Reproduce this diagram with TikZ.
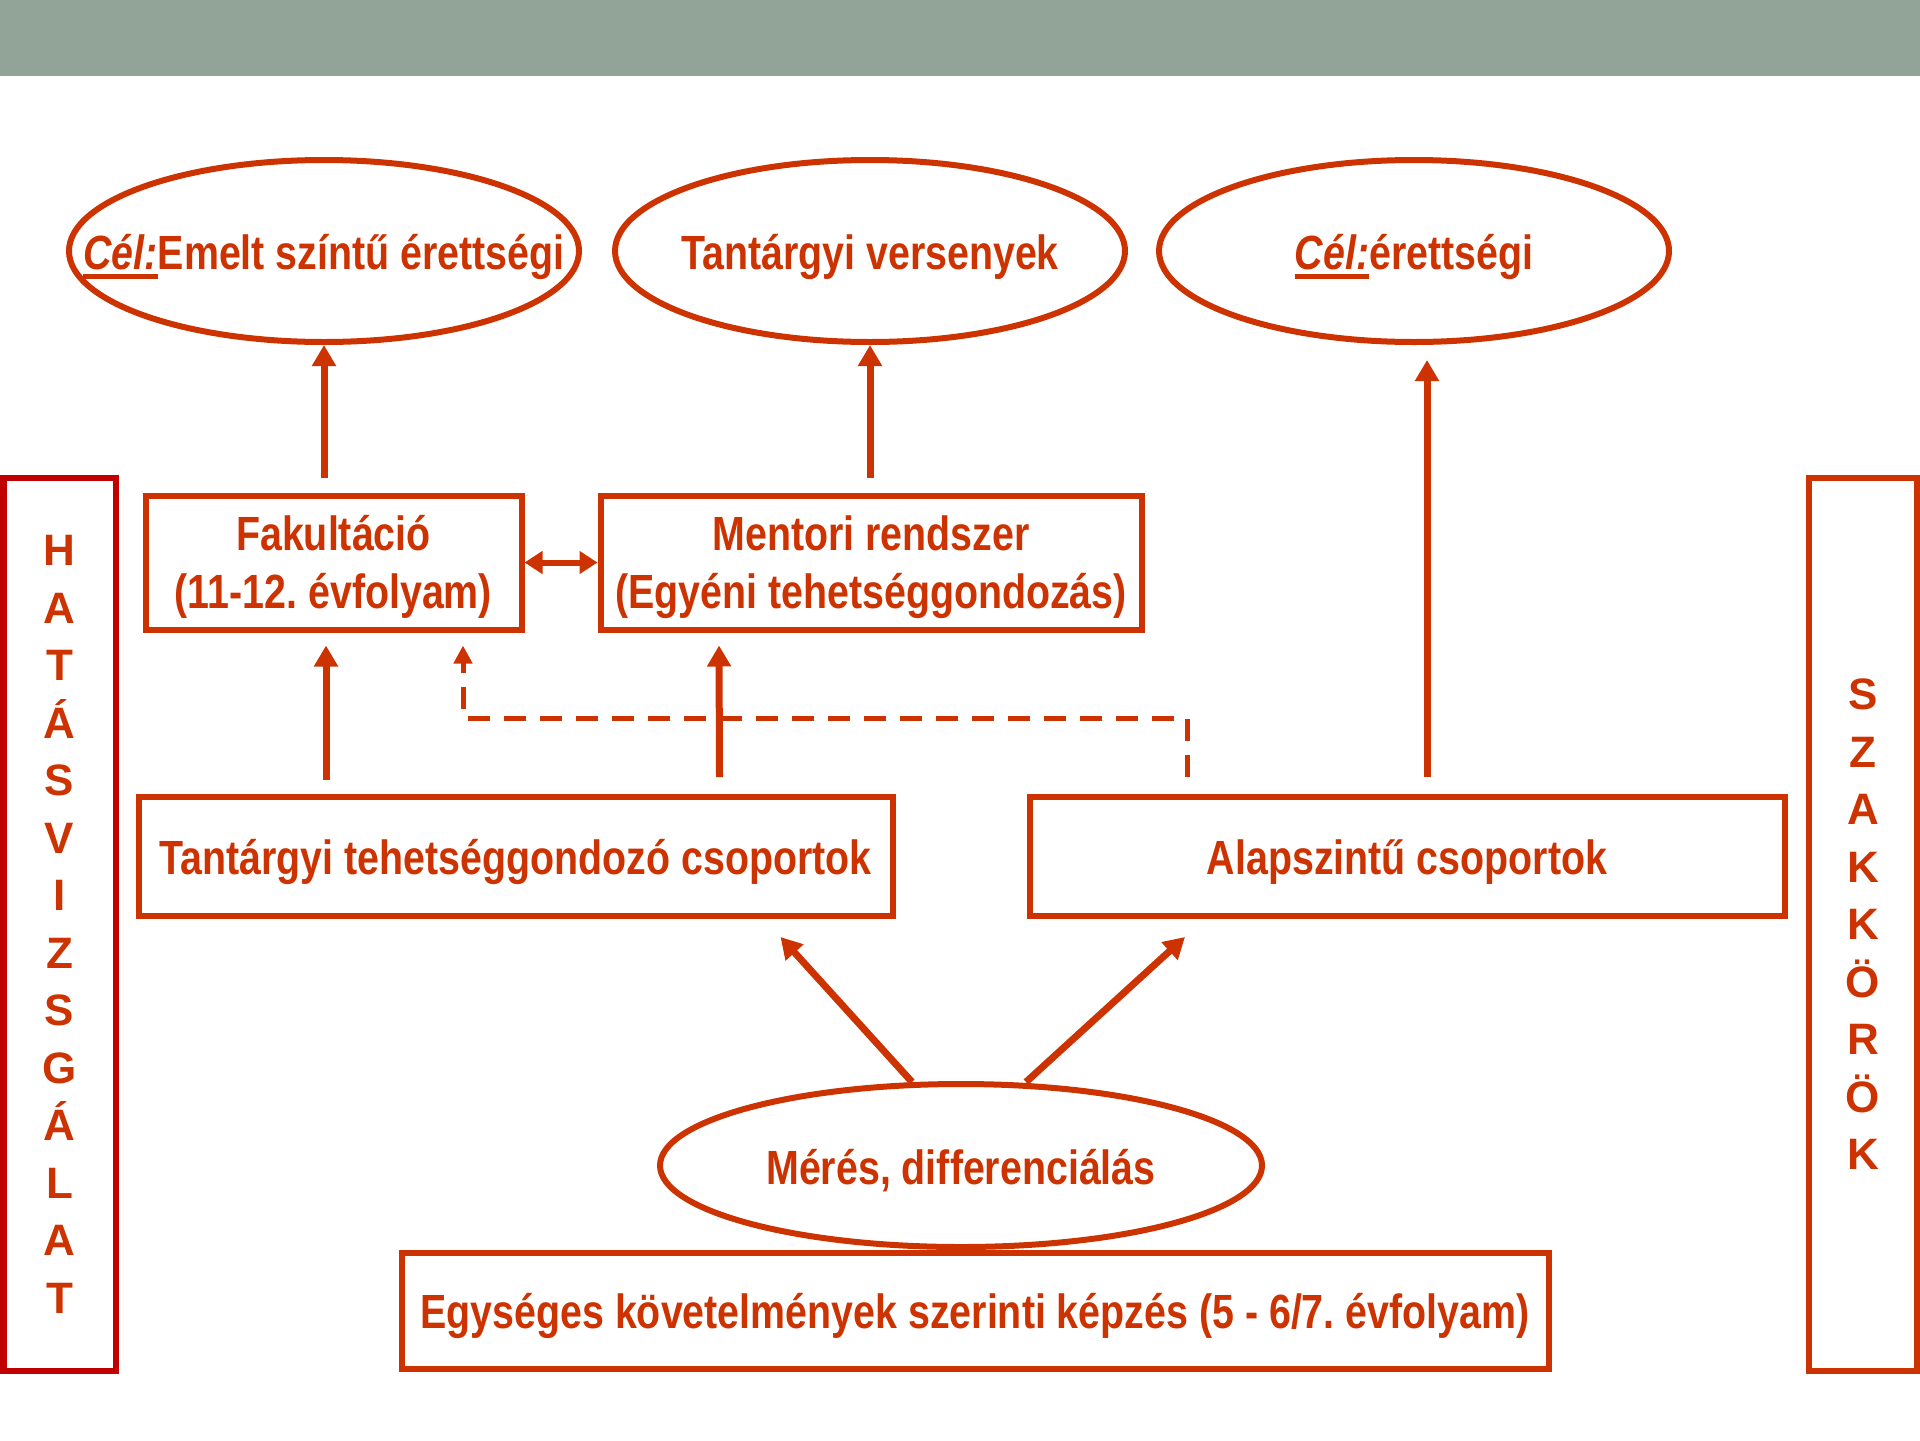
\documentclass[tikz,border=0pt]{standalone}
\usepackage{fontspec}
\setmainfont{Liberation Sans}
\newfontfamily\narrowf[FakeStretch=0.82]{Liberation Sans}
\usetikzlibrary{arrows.meta,shapes.geometric,calc}
\definecolor{rust}{RGB}{204,51,0}
\definecolor{dred}{RGB}{192,0,0}
\definecolor{bandgray}{RGB}{146,163,151}
\newcommand\celline[1]{\setbox0\hbox{#1}\rlap{\rule[-0.2em]{\wd0}{0.1em}}\box0}
\frenchspacing
\begin{document}
\begin{tikzpicture}[x=0.5pt,y=-0.5pt,
  mainfont/.style={font=\narrowf\bfseries\fontsize{24}{29}\selectfont},
  box/.style={draw=rust, line width=3pt, rectangle, inner sep=0pt, text=rust, mainfont, align=center},
  one/.style={text height=18pt, text depth=0pt},
  two/.style={text height=46pt, text depth=0pt},
  ell/.style={draw=rust, line width=3pt, ellipse, inner sep=0pt},
  txt/.style={inner sep=0pt, text=rust, mainfont, text height=18.5pt, text depth=0pt},
  sidebox/.style={rectangle, inner sep=0pt, text=rust, align=center, font=\bfseries\fontsize{22}{28.75}\selectfont},
  arr/.style={draw=rust, line width=3.5pt, -{Triangle[length=10.5pt,width=11.5pt]}},
  dblarr/.style={draw=rust, line width=3pt, {Triangle[length=9pt,width=11pt]}-{Triangle[length=9pt,width=11pt]}},
  darr/.style={draw=rust, line width=2.5pt, dash pattern=on 11pt off 7pt, -{Triangle[length=9pt,width=9pt]}}
]
\useasboundingbox (0,0) rectangle (1920,1440);
\fill[bandgray] (0,0) rectangle (1920,76);

% top ellipses
\node[ell, minimum width=255pt, minimum height=91pt] (e1) at (324,251) {};
\node[txt] (e1t) at (e1.center) {{\itshape\celline{Cél:}}Emelt színtű érettségi};
\node[ell, minimum width=255pt, minimum height=91pt] (e2) at (870,251) {};
\node[txt] (e2t) at (e2.center) {Tantárgyi versenyek};
\node[ell, minimum width=255pt, minimum height=91pt] (e3) at (1414,251) {};
\node[txt] (e3t) at (e3.center) {{\itshape\celline{Cél:}}érettségi};

% middle boxes
\node[box, two, minimum width=188pt, minimum height=67pt] (fak) at (333.5,562.5)
  {Fakultáció\\(11-12. évfolyam)};
\node[box, two, minimum width=270.5pt, minimum height=67pt] (men) at (871,562.5)
  {Mentori rendszer\\(Egyéni tehetséggondozás)};

% group boxes
\node[box, one, minimum width=377pt, minimum height=59.5pt] (tant) at (515.5,856.5)
  {Tantárgyi tehetséggondozó csoportok};
\node[box, one, minimum width=377.5pt, minimum height=59.5pt] (alap) at (1407,856.5)
  {Alapszintű csoportok};

% bottom
\node[box, one, minimum width=573.5pt, minimum height=58pt] (egy) at (975,1310.5)
  {Egységes követelmények szerinti képzés (5 - 6/7. évfolyam)};
\node[ell, fill=white, minimum width=301pt, minimum height=81.5pt] (mer) at (961,1165.5) {};
\node[txt] (mert) at (mer.center) {Mérés, differenciálás};

% side boxes
\node[sidebox, draw=dred, line width=3pt, minimum width=56pt, minimum height=446.5pt] (hat) at (59.5,924.5)
  {H\\A\\T\\Á\\S\\V\\I\\Z\\S\\G\\Á\\L\\A\\T};
\node[sidebox, draw=rust, line width=3pt, minimum width=54pt, minimum height=446.5pt] (szak) at (1863,924.5)
  {S\\Z\\A\\K\\K\\Ö\\R\\Ö\\K};

% arrows
\draw[arr, shorten <=7.5pt] (e1.south |- fak.north) -- (e1.south);
\draw[arr, shorten <=7.5pt] (e2.south |- men.north) -- (e2.south);
\draw[arr] ($(alap.north)+(20,-17)$) -- ($(e3.south)+(13,15)$);
\draw[arr] ($(fak.south)+(-7.5,147)$) -- ($(fak.south)+(-7.5,13)$);
\draw[arr] ($(tant.north)+(204,-17)$) -- ($(men.south)+(-152,13)$);
\draw[darr] ($(alap.north)+(-220,-17)$) -- ++(0,-59) -| ($(fak.south)+(129.5,13)$);
\draw[dblarr] (fak.east) -- (men.west);
\draw[arr] ($(mer.north)+(-49,1)$) -- ($(tant.south)+(265,18)$);
\draw[arr] ($(mer.north)+(65,1)$) -- ($(alap.south)+(-222,18)$);
\end{tikzpicture}
\end{document}
